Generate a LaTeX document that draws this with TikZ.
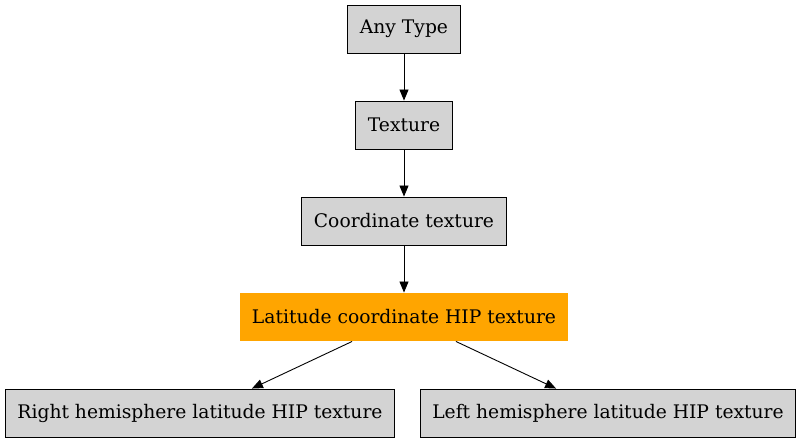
\documentclass[tikz,border=0pt]{standalone}
\usepackage{fontspec}
\setmainfont{DejaVu Serif}
\usetikzlibrary{arrows.meta}

\begin{document}
\begin{tikzpicture}[x=1pt,y=1pt,
	TypeStyle/.style = {draw, fill=boxgray, rectangle, line width=0.9pt, minimum height=48pt, inner xsep=12pt, font=\fontsize{18.7}{22}\selectfont},
	FocusStyle/.style = {TypeStyle, draw=none, fill=focusorange},
	EdgeStyle/.style = {-{Triangle[length=11pt,width=9pt]}, line width=0.9pt, black}]
	\definecolor{boxgray}{RGB}{211,211,211}
	\definecolor{focusorange}{RGB}{255,165,0}
	\useasboundingbox (0,0) rectangle (802,-443);
		\node[TypeStyle] (A) at (404,-29) {Any Type};
		\node[TypeStyle] (B) at (404,-125) {Texture};
		\node[TypeStyle] (C) at (404,-221) {Coordinate texture};
		\node[FocusStyle] (D) at (404,-317) {Latitude coordinate HIP texture};
		\node[TypeStyle] (E) at (200,-413) {Right hemisphere latitude HIP texture};
		\node[TypeStyle] (F) at (608,-413) {Left hemisphere latitude HIP texture};
	%	edges
		\draw[EdgeStyle] (A) -- (B);
		\draw[EdgeStyle] (B) -- (C);
		\draw[EdgeStyle] (C) -- (D);
		\draw[EdgeStyle] (D) -- (E);
		\draw[EdgeStyle] (D) -- (F);
	\end{tikzpicture}
\end{document}
